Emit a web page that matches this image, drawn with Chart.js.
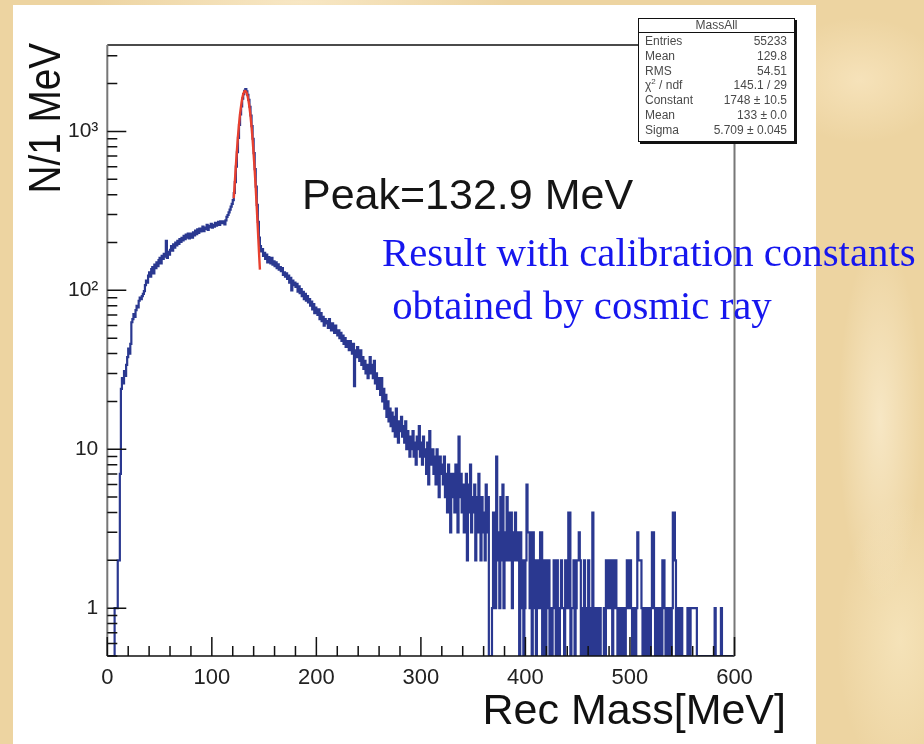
<!DOCTYPE html>
<html>
<head>
<meta charset="utf-8">
<script src="https://cdn.jsdelivr.net/npm/chart.js@4.4.1/dist/chart.umd.min.js"></script>
<style>
  html, body { margin: 0; padding: 0; }
  body {
    width: 924px; height: 744px; overflow: hidden; position: relative;
    background-color: #edd4a1;
    background-image:
      radial-gradient(ellipse 60px 260px at 880px 420px, rgba(255,246,225,0.55), rgba(255,246,225,0) 70%),
      radial-gradient(ellipse 120px 90px at 860px 80px, rgba(255,240,210,0.5), rgba(255,240,210,0) 70%),
      radial-gradient(ellipse 90px 200px at 900px 640px, rgba(250,236,200,0.6), rgba(250,236,200,0) 70%),
      radial-gradient(ellipse 300px 30px at 300px 2px, rgba(255,244,220,0.6), rgba(255,244,220,0) 70%);
    font-family: 'Liberation Sans', Arial, Helvetica, sans-serif;
  }
  #panel { position: absolute; left: 13px; top: 5px; width: 803px; height: 739px; background: #ffffff; }
  #chart { position: absolute; left: 0; top: 0; }
  .txt { position: absolute; white-space: pre; line-height: 1; }
  #ytitle { left: 22px; top: 301px; width: 300px; text-align: right; font-size: 45px; color: #111;
            transform-origin: 0 0; transform: rotate(-90deg) scaleX(0.86); }
  #xtitle { left: 0; width: 786px; top: 688px; text-align: right; font-size: 43px; color: #111; }
  #peak { left: 302px; top: 173px; font-size: 43px; color: #151515; }
  .note { font-family: 'Liberation Serif', 'Times New Roman', serif; font-size: 40.8px; color: #1616ee; left: 382px; }
  #note1 { top: 233px; }
  #note2 { top: 286px; }
  #stats {
    position: absolute; left: 638px; top: 18px; width: 157px; height: 124px; box-sizing: border-box;
    background: #fff; border: 1px solid #111; box-shadow: 2px 2px 0 #111;
    font-size: 12px; color: #4a4a4a;
  }
  #stats .st-title { height: 13px; line-height: 13px; text-align: center; border-bottom: 1px solid #111; }
  #stats .rows { padding-top: 1px; }
  #stats .row { display: flex; justify-content: space-between; height: 14.8px; line-height: 14.8px; padding: 0 7px 0 6px; }
</style>
</head>
<body>
<div id="panel"></div>
<canvas id="chart" width="924" height="744"></canvas>
<div class="txt" id="ytitle">N/1 MeV</div>
<div class="txt" id="xtitle">Rec Mass[MeV]</div>
<div class="txt" id="peak">Peak=132.9 MeV</div>
<div class="txt note" id="note1">Result with calibration constants</div>
<div class="txt note" id="note2"> obtained by cosmic ray</div>
<div id="stats"><div class="st-title" id="stTitle"></div><div class="rows" id="stRows"></div></div>
<script>
// ---------------- data ----------------
const X_MIN = 0;
const X_MAX = 600;
const BIN_WIDTH = 1;          // MeV per bin
const Y_MIN = 0.5;
const Y_MAX = 3500;

// counts per 1 MeV bin, bins 0..599
const counts = [
  0,0,0,0,0,0,0,1,1,1,
  2,2,7,24,28,26,31,29,34,38,
  43,40,46,63,66,71,68,75,80,78,
  86,90,88,92,95,99,108,115,112,124,
  130,122,136,140,128,145,138,150,142,155,
  160,148,165,158,170,163,205,160,175,168,
  180,190,178,195,186,200,192,205,196,210,
  202,214,206,220,210,224,215,228,212,222,
  228,215,232,222,238,226,242,230,245,235,
  240,252,236,248,244,258,240,255,250,262,
  248,258,252,266,255,262,270,258,272,265,
  265,272,260,276,290,298,310,322,336,350,
  370,410,480,600,740,910,1100,1280,1440,1610,
  1720,1800,1850,1790,1700,1580,1430,1260,1080,900,
  730,580,450,345,270,215,190,176,182,165,
  172,158,168,150,162,155,148,160,145,152,
  142,150,138,146,135,140,132,138,125,130,
  122,128,118,124,112,120,100,115,108,112,
  105,110,98,106,96,102,92,98,88,95,
  86,92,84,88,80,85,76,82,72,78,
  74,70,76,66,72,64,68,60,66,62,
  64,58,66,60,56,62,58,54,60,56,
  52,56,50,54,48,52,46,50,44,48,
  46,42,48,44,40,46,25,42,38,44,
  40,36,42,34,38,32,36,30,34,28,
  32,38,30,34,28,36,26,30,24,28,
  26,22,28,20,24,18,22,16,20,15,
  18,14,17,13,16,12,18,14,11,15,
  13,16,12,14,11,15,10,13,12,9,
  12,10,13,9,11,8,12,10,14,9,
  11,8,12,9,10,7,11,6,13,9,
  8,10,7,9,6,10,8,5,9,7,
  8,6,9,5,7,4,8,6,3,7,
  5,7,4,8,6,3,12,5,7,4,
  6,3,5,7,2,6,4,8,3,5,
  4,6,2,5,3,7,4,2,5,3,
  4,2,6,3,5,0,0,0,1,4,
  2,1,9,2,3,1,5,2,6,1,
  3,2,5,4,2,3,4,1,3,2,
  4,2,3,2,0,3,1,2,0,1,
  2,6,3,3,1,3,0,3,1,2,
  0,1,2,1,3,3,0,1,2,0,
  1,2,2,0,1,0,1,2,1,0,
  2,1,0,1,2,1,1,0,2,1,
  1,4,4,0,1,1,2,0,1,2,
  2,3,2,0,1,0,2,1,0,1,
  2,0,1,0,4,1,0,1,0,1,
  0,1,0,0,0,1,0,2,2,1,
  2,2,1,0,2,1,2,1,0,1,
  0,1,1,0,1,0,1,2,2,1,
  2,1,0,1,0,0,1,3,2,2,
  2,1,0,1,0,1,0,0,1,0,
  1,3,3,1,0,1,0,1,0,1,
  0,2,2,1,0,1,0,0,1,0,
  1,4,4,2,0,1,0,0,1,1,
  0,0,0,0,0,1,1,0,1,1,
  1,1,1,1,0,0,0,0,0,0,
  0,0,0,0,0,0,0,0,0,0,
  0,1,0,0,0,0,0,1,0,0,
  0,0,0,0,0,0,0,0,0,0
];

// red fit curve, sampled where it is drawn in the picture
const fitMass   = [121,122,123,124,125,126,127,128,129,130,131,132,133,134,135,136,137,138,139,140,141,142,143,144,145,146];
const fitCounts = [380,480,610,760,930,1110,1290,1450,1600,1710,1780,1800,1770,1690,1570,1420,1250,1070,890,720,570,440,330,245,180,135];

// axis ticks
const xTickValues = [0, 100, 200, 300, 400, 500, 600];
const yTickValues = [1, 10, 100, 1000];
const yTickLabels = ['1', '10', '10\u00B2', '10\u00B3'];

// statistics box
const statsTitle = 'MassAll';
const statsLabels = ['Entries', 'Mean', 'RMS', '\u03C7<sup style="font-size:8px;line-height:0">2</sup> / ndf', 'Constant', 'Mean', 'Sigma'];
const statsValues = ['55233', '129.8', '54.51', '145.1 / 29', '1748 \u00B1 10.5', '133 \u00B1 0.0', '5.709 \u00B1 0.045'];

// ---------------- stats box ----------------
document.getElementById('stTitle').textContent = statsTitle;
document.getElementById('stRows').innerHTML = statsLabels.map((l, i) =>
  '<div class="row"><span>' + l + '</span><span>' + statsValues[i] + '</span></div>').join('');

// ---------------- chart ----------------
const FONT = "'Liberation Sans', Arial, Helvetica, sans-serif";

const histPoints = counts.map((c, i) => ({ x: X_MIN + i * BIN_WIDTH, y: c > 0 ? c : Y_MIN }));
histPoints.push({ x: X_MIN + counts.length * BIN_WIDTH, y: histPoints[histPoints.length - 1].y });
const fitPoints = fitMass.map((m, i) => ({ x: m, y: fitCounts[i] }));

const rootFrame = {
  id: 'rootFrame',
  afterDatasetsDraw(chart) {
    const { ctx, chartArea: a, scales: { x, y } } = chart;
    ctx.save();
    ctx.lineCap = 'butt';
    // frame
    ctx.strokeStyle = '#111';
    ctx.lineWidth = 1.5;
    ctx.beginPath();
    ctx.moveTo(a.left, a.top); ctx.lineTo(a.right, a.top);
    ctx.moveTo(a.left, a.bottom); ctx.lineTo(a.right, a.bottom);
    ctx.stroke();
    ctx.strokeStyle = '#777';
    ctx.lineWidth = 2;
    ctx.beginPath();
    ctx.moveTo(a.left, a.top); ctx.lineTo(a.left, a.bottom);
    ctx.moveTo(a.right, a.top); ctx.lineTo(a.right, a.bottom);
    ctx.stroke();
    // ticks
    ctx.strokeStyle = '#111';
    ctx.lineWidth = 1.5;
    ctx.beginPath();
    for (let v = X_MIN; v <= X_MAX; v += 20) {
      const px = x.getPixelForValue(v);
      const len = (v % 100 === 0) ? 19 : 10;
      ctx.moveTo(px, a.bottom); ctx.lineTo(px, a.bottom - len);
    }
    for (let e = -1; e <= 3; e++) {
      const d = Math.pow(10, e);
      for (let k = 1; k <= 9; k++) {
        const v = k * d;
        if (v < Y_MIN || v > Y_MAX) continue;
        const py = y.getPixelForValue(v);
        const len = k === 1 ? 19 : 10;
        ctx.moveTo(a.left, py); ctx.lineTo(a.left + len, py);
      }
    }
    ctx.stroke();
    ctx.restore();
  }
};

new Chart(document.getElementById('chart'), {
  type: 'line',
  data: {
    datasets: [
      { label: 'MassAll', data: histPoints, stepped: 'before', borderColor: '#2a3890', borderWidth: 2.2,
        pointRadius: 0, fill: false, order: 2 },
      { label: 'Gaussian fit', data: fitPoints, borderColor: '#e8402f', borderWidth: 2.4,
        pointRadius: 0, fill: false, cubicInterpolationMode: 'monotone', order: 1 }
    ]
  },
  options: {
    responsive: false,
    devicePixelRatio: 1,
    animation: false,
    parsing: true,
    layout: { padding: { left: 0, top: 45, right: 189.5, bottom: 0 } },
    plugins: { legend: { display: false }, tooltip: { enabled: false }, title: { display: false } },
    scales: {
      x: {
        type: 'linear', min: X_MIN, max: X_MAX,
        afterBuildTicks: s => { s.ticks = xTickValues.map(v => ({ value: v })); },
        afterFit: s => { s.height = 88; },
        grid: { display: false, drawTicks: false },
        border: { display: false },
        ticks: { autoSkip: false, maxRotation: 0, padding: 9, color: '#222',
                 font: { family: FONT, size: 22 }, callback: v => String(v) }
      },
      y: {
        type: 'logarithmic', min: Y_MIN, max: Y_MAX,
        afterBuildTicks: s => { s.ticks = yTickValues.map(v => ({ value: v })); },
        afterFit: s => { s.width = 107.3; },
        grid: { display: false, drawTicks: false },
        border: { display: false },
        ticks: { autoSkip: false, padding: 9, color: '#222',
                 font: { family: FONT, size: 21 },
                 callback: v => { const i = yTickValues.indexOf(v); return i >= 0 ? yTickLabels[i] : ''; } }
      }
    }
  },
  plugins: [rootFrame]
});
</script>
</body>
</html>
